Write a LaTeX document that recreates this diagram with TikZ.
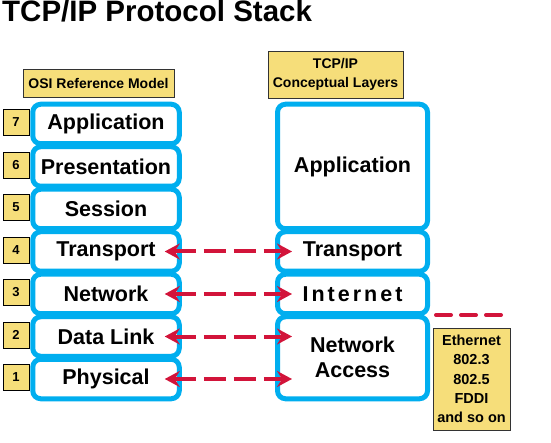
\documentclass[tikz,border=0pt]{standalone}
\usepackage{fontspec}
\setmainfont{Liberation Sans}
\usetikzlibrary{arrows.meta}
\definecolor{osiblue}{RGB}{0,174,239}
\definecolor{osired}{RGB}{210,20,58}
\definecolor{osiyellow}{RGB}{246,222,122}
\tikzset{
    layer/.style ={
        shape=rectangle,
        rounded corners=8pt,
        draw=osiblue,
        line width=5pt,
        fill=white,
        minimum width=146.5pt,
        minimum height=39.5pt,
        inner sep=0pt,
        align=center,
        font=\bfseries\fontsize{21.5}{25}\selectfont
    },
    numbox/.style ={
        shape=rectangle,
        draw=black,
        fill=osiyellow,
        line width=0.8pt,
        minimum size=26pt,
        inner sep=0pt,
        font=\bfseries\fontsize{13}{15}\selectfont
    },
    header/.style ={
        shape=rectangle,
        draw=black!80,
        fill=osiyellow,
        line width=0.8pt,
        inner sep=0pt,
        align=center,
        font=\bfseries\fontsize{14}{19}\selectfont
    },
    link/.style ={
        draw=osired,
        line width=4pt,
        dash pattern=on 22pt off 8pt,
        {Stealth[length=15pt,width=16pt,inset=5pt]}-{Stealth[length=15pt,width=16pt,inset=5pt]},
        shorten <=-17pt,
        shorten >=-17pt
    }
}
\begin{document}
\begin{tikzpicture}[x=1pt,y=-1pt]
    \useasboundingbox (0,0) rectangle (551,443);
    \node[anchor=base west, inner sep=0pt, font=\bfseries\fontsize{29.5}{33}\selectfont] (title) at(2,22) {TCP/IP Protocol Stack};
    \node[header, minimum width=151pt, minimum height=28pt] (osi) at(98.5,83) {OSI Reference Model};
    \node[header, minimum width=135pt, minimum height=47pt] (tcpip) at(335.5,74.5) {TCP/IP\\Conceptual Layers};
    % layer numbers
    \node[numbox] (n7) at(16,122.5) {7};
    \node[numbox] (n6) at(16,165) {6};
    \node[numbox] (n5) at(16,207.5) {5};
    \node[numbox] (n4) at(16,250) {4};
    \node[numbox] (n3) at(16,292.5) {3};
    \node[numbox] (n2) at(16,335) {2};
    \node[numbox] (n1) at(16,377.5) {1};
    % OSI layers
    \node[layer] (lapp) at(106,124) {Application};
    \node[layer] (lpres) at(106,166.5) {Presentation};
    \node[layer] (lsess) at(106,209) {Session};
    \node[layer] (ltrans) at(106,251.5) {Transport};
    \node[layer] (lnet) at(106,294) {Network};
    \node[layer] (ldata) at(106,336.5) {Data Link};
    \node[layer] (lphys) at(106,379) {Physical};
    % TCP/IP layers
    \node[layer, minimum width=150pt, minimum height=124.5pt] (rapp) at(352.5,166.5) {Application};
    \node[layer, minimum width=150pt] (rtrans) at(352.5,251.5) {Transport};
    \node[layer, minimum width=150pt] (rinet) at(352.5,294) {\addfontfeature{LetterSpace=14}Internet};
    \node[layer, minimum width=150pt, minimum height=82pt] (racc) at(352.5,357.75) {Network\\Access};
    \node[header, minimum width=77pt, minimum height=102pt, font=\bfseries\fontsize{14.5}{19.3}\selectfont] (eth) at(471.5,379) {Ethernet\\802.3\\802.5\\FDDI\\and so on};
    \coordinate (e1) at(436,315);
    \coordinate (e2) at(501,315);
    \draw[osired, line width=4pt, line cap=round, dash pattern=on 15pt off 10pt] (e1) -- (e2);
    \draw[link] (ltrans.east) -- (rtrans.west);
    \draw[link] (lnet.east) -- (rinet.west);
    \draw[link] (ldata.east) -- (ldata.east -| racc.west);
    \draw[link] (lphys.east) -- (lphys.east -| racc.west);
\end{tikzpicture}
\end{document}
